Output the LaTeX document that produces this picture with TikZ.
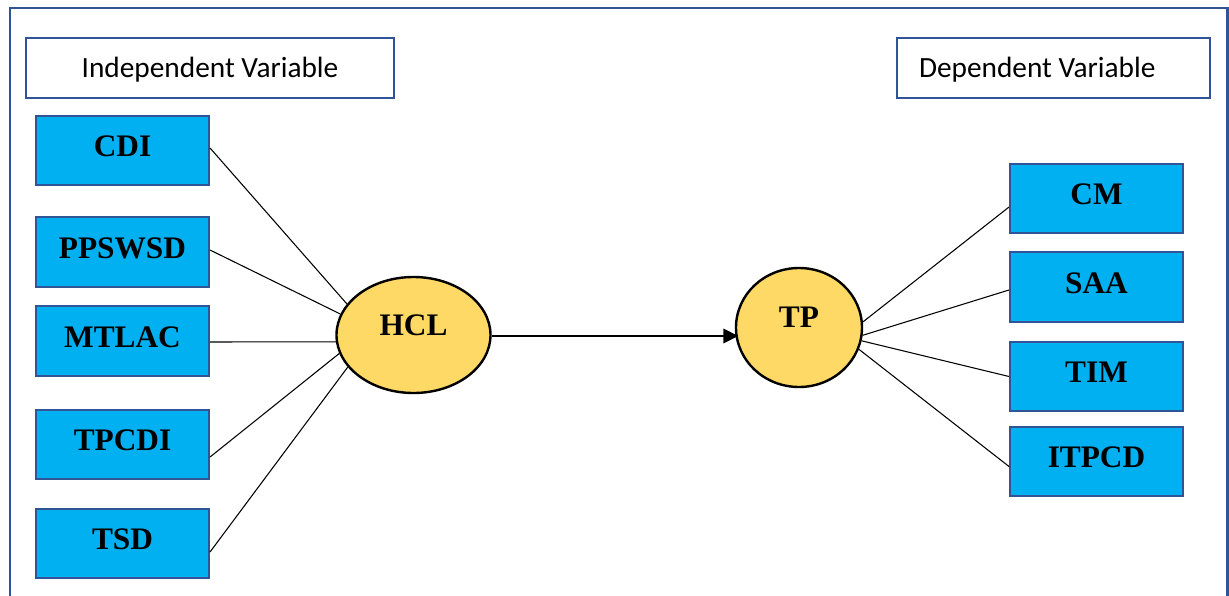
\documentclass[tikz,border=0pt]{standalone}
\usepackage{fontspec}
\setmainfont{Liberation Serif}
\newfontfamily\calibri{Carlito}
\usetikzlibrary{shapes.geometric,arrows.meta}
\definecolor{frameblue}{RGB}{47,85,151}
\definecolor{boxfill}{RGB}{0,176,240}
\definecolor{ellfill}{RGB}{255,217,102}
\tikzset{
  headbox/.style={draw=frameblue,line width=1.6pt,fill=white,minimum height=45pt,inner sep=0pt,text height=14.2pt,text depth=0pt,font=\calibri\fontsize{22}{24}\selectfont},
  varbox/.style={draw=frameblue,line width=1.5pt,fill=boxfill,minimum width=129.75pt,minimum height=52pt,inner sep=0pt,text height=15.5pt,text depth=6pt,font=\bfseries\fontsize{23.5}{26}\selectfont},
  latent/.style={ellipse,draw=black,line width=1.8pt,fill=ellfill,inner sep=0pt,font=\bfseries\fontsize{23.5}{26}\selectfont},
  conn/.style={draw=black,line width=0.8pt},
}
\begin{document}
\begin{tikzpicture}[x=0.75pt,y=-0.75pt]
\useasboundingbox (0,0) rectangle (1229,596);
% outer frame
\draw[frameblue,line width=2pt] (10,600) -- (10,8) -- (1227.5,8) -- (1227.5,600);
% headers
\node[headbox,minimum width=276pt] (indep) at (210,68) {Independent Variable};
\node[headbox,minimum width=234.75pt] (dep) at (1053.5,68) {\makebox[201.75pt][l]{Dependent Variable}};
% left boxes
\node[varbox] (cdi) at (122.5,150.5) {CDI};
\node[varbox] (ppswsd) at (122.5,252) {PPSWSD};
\node[varbox] (mtlac) at (122.5,341) {MTLAC};
\node[varbox] (tpcdi) at (122.5,444.5) {TPCDI};
\node[varbox] (tsd) at (122.5,543.5) {TSD};
% right boxes
\node[varbox] (cm) at (1096.5,198.5) {CM};
\node[varbox] (saa) at (1096.5,287) {SAA};
\node[varbox] (tim) at (1096.5,376.5) {TIM};
\node[varbox] (itpcd) at (1096.5,461.5) {ITPCD};
% latent variables
\node[latent,minimum width=115.5pt,minimum height=87pt] (hcl) at (413.5,335) {\raisebox{0pt}[0pt][0pt]{HCL}};
\node[latent,minimum width=94.5pt,minimum height=89.25pt] (tp) at (799,327.5) {\raisebox{0pt}[0pt][0pt]{TP}};
% connectors left
\draw[conn] ([yshift=1.9pt]cdi.east) -- (hcl.155);
\draw[conn] ([yshift=1.5pt]ppswsd.east) -- (hcl.164);
\draw[conn] ([yshift=-0.75pt]mtlac.east) -- (hcl.185);
\draw[conn] ([yshift=-9.4pt]tpcdi.east) -- (hcl.194.5);
\draw[conn] ([yshift=-6.4pt]tsd.east) -- (hcl.206);
% connectors right
\draw[conn] (tp.5) -- ([yshift=-6.4pt]cm.west);
\draw[conn] (tp.353) -- ([yshift=-2.25pt]saa.west);
\draw[conn] (tp.348) -- (tim.west);
\draw[conn] (tp.340) -- ([yshift=-3.75pt]itpcd.west);
% main arrow
\draw[conn,-{Triangle[length=11pt,width=11pt]},shorten >=-2.5pt] ([yshift=-0.75pt]hcl.east) -- ([yshift=-0.75pt]hcl.east -| tp.west);
\end{tikzpicture}
\end{document}
